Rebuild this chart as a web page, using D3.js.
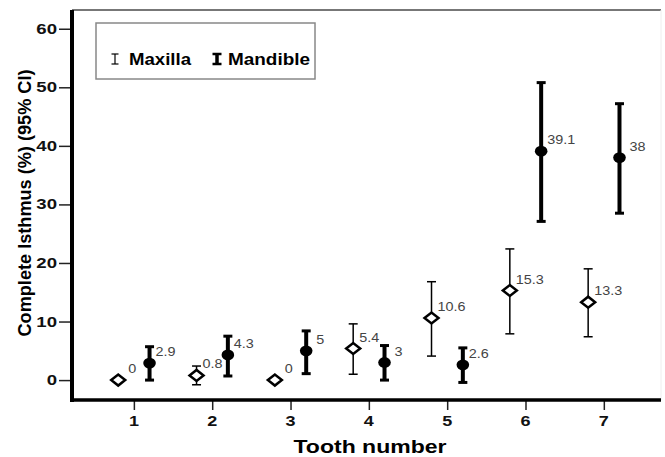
<!DOCTYPE html>
<html><head><meta charset="utf-8">
<script src="https://cdn.jsdelivr.net/npm/d3@7"></script>
<style>html,body{margin:0;padding:0;background:#fff;}svg{display:block;font-family:"Liberation Sans",Arial,sans-serif;}</style>
</head><body>
<svg id="chart" width="665" height="457"></svg>
<script>
const teeth = [1, 2, 3, 4, 5, 6, 7];
const xTickLabels = ["1", "2", "3", "4", "5", "6", "7"];
const yTicks = [0, 10, 20, 30, 40, 50, 60];
const maxillaMean = [0, 0.8, 0, 5.4, 10.6, 15.3, 13.3];
const maxillaLow  = [0, -0.8, 0, 1.0, 4.1, 7.9, 7.4];
const maxillaHigh = [0, 2.4, 0, 9.6, 16.8, 22.4, 19.0];
const maxillaLabels = ["0", "0.8", "0", "5.4", "10.6", "15.3", "13.3"];
const mandibleMean = [2.9, 4.3, 5, 3, 2.6, 39.1, 38];
const mandibleLow  = [0, 0.7, 1.1, 0, -0.4, 27.1, 28.5];
const mandibleHigh = [5.7, 7.5, 8.4, 5.9, 5.5, 50.8, 47.2];
const mandibleLabels = ["2.9", "4.3", "5", "3", "2.6", "39.1", "38"];
const seriesNames = ["Maxilla", "Mandible"];

const svg = d3.select("#chart");
const x = d3.scaleLinear().domain([0.21, 7.73]).range([72, 661]);
const y = d3.scaleLinear().domain([-3.4, 63.2]).range([400, 10]);
const SX = 1.2;

function stext(g, str, px, py, size, weight, anchor, fill) {
  return g.append("text")
    .attr("transform", `translate(${px},${py}) scale(${SX},1)`)
    .attr("font-size", size).attr("font-weight", weight)
    .attr("text-anchor", anchor).attr("dominant-baseline", "central")
    .attr("fill", fill).text(str);
}

// frame
svg.append("line").attr("x1", x(0.21)).attr("x2", x(7.73)).attr("y1", y(63.2)).attr("y2", y(63.2))
  .attr("stroke", "#777").attr("stroke-width", 2);
svg.append("line").attr("x1", x(7.73)).attr("x2", x(7.73)).attr("y1", y(63.2)).attr("y2", y(-3.4))
  .attr("stroke", "#eee").attr("stroke-width", 1);

// y axis
const yAxis = svg.append("g").attr("transform", `translate(${x(0.21)},0)`)
  .call(d3.axisLeft(y).tickValues(yTicks).tickSize(13).tickFormat(""));
yAxis.select(".domain").remove();
yAxis.selectAll(".tick line").attr("stroke", "#222").attr("stroke-width", 1.5);
yTicks.forEach(v => stext(svg, String(v), 57, y(v), 15.5, "bold", "end", "#111"));

// x axis
const xAxis = svg.append("g").attr("transform", `translate(0,${y(-3.4)})`)
  .call(d3.axisBottom(x).tickValues(teeth).tickSize(10).tickFormat(""));
xAxis.select(".domain").remove();
xAxis.selectAll(".tick line").attr("stroke", "#222").attr("stroke-width", 1.5);
teeth.forEach((t, i) => stext(svg, xTickLabels[i], x(t), 421, 15, "bold", "middle", "#111"));

svg.append("line").attr("x1", x(0.21)).attr("x2", x(0.21)).attr("y1", y(63.2)).attr("y2", y(-3.4) + 2)
  .attr("stroke", "#000").attr("stroke-width", 4);
svg.append("line").attr("x1", x(0.21) - 2).attr("x2", x(7.73)).attr("y1", y(-3.4)).attr("y2", y(-3.4))
  .attr("stroke", "#000").attr("stroke-width", 3.5);

// titles
svg.append("text").attr("x", 370).attr("y", 447).attr("font-size", 18).attr("font-weight", "bold")
  .attr("text-anchor", "middle").attr("dominant-baseline", "central")
  .attr("textLength", 153).attr("lengthAdjust", "spacingAndGlyphs")
  .text("Tooth number");
svg.append("text").attr("transform", "translate(31,203) rotate(-90)").attr("font-size", 17.5)
  .attr("font-weight", "bold").attr("text-anchor", "middle").attr("textLength", 267)
  .attr("lengthAdjust", "spacingAndGlyphs").text("Complete Isthmus (%) (95% CI)");

// error bars
function errBar(g, cx, lo, hi, lw, cw, capW) {
  if (hi - lo < 1e-9) return;
  g.append("line").attr("x1", cx).attr("x2", cx).attr("y1", y(lo)).attr("y2", y(hi))
    .attr("stroke", "#000").attr("stroke-width", lw);
  [lo, hi].forEach(v => g.append("line").attr("x1", cx - capW / 2).attr("x2", cx + capW / 2)
    .attr("y1", y(v)).attr("y2", y(v)).attr("stroke", "#000").attr("stroke-width", cw));
}
const gBars = svg.append("g");
teeth.forEach((t, i) => {
  errBar(gBars, x(t - 0.2), maxillaLow[i], maxillaHigh[i], 1.5, 1.5, 9);
  errBar(gBars, x(t + 0.2), mandibleLow[i], mandibleHigh[i], 4, 3, 9);
});

// markers
const gM = svg.append("g");
teeth.forEach((t, i) => {
  const cx = x(t - 0.2), cy = y(maxillaMean[i]);
  gM.append("path").attr("d", `M${cx - 7},${cy} L${cx},${cy - 5.5} L${cx + 7},${cy} L${cx},${cy + 5.5} Z`)
    .attr("fill", "#fff").attr("stroke", "#000").attr("stroke-width", 2.5);
  gM.append("ellipse").attr("cx", x(t + 0.2)).attr("cy", y(mandibleMean[i]))
    .attr("rx", 6.3).attr("ry", 5.4).attr("fill", "#000");
});

// value labels
const gL = svg.append("g");
function lab(str, cx, cy) {
  const dx = str.includes(".") ? 6 : 10;
  stext(gL, str, cx + dx, cy - 11, 12, "normal", "start", "#444");
}
teeth.forEach((t, i) => {
  lab(maxillaLabels[i], x(t - 0.2), y(maxillaMean[i]));
  lab(mandibleLabels[i], x(t + 0.2), y(mandibleMean[i]));
});

// legend
const lg = svg.append("g");
lg.append("rect").attr("x", 96).attr("y", 23).attr("width", 219).attr("height", 56)
  .attr("fill", "#fff").attr("stroke", "#888").attr("stroke-width", 1.5);
function legIcon(cx, lw, capW) {
  lg.append("line").attr("x1", cx).attr("x2", cx).attr("y1", 54).attr("y2", 64).attr("stroke", "#000").attr("stroke-width", lw);
  [54, 64].forEach(v => lg.append("line").attr("x1", cx - capW / 2).attr("x2", cx + capW / 2)
    .attr("y1", v).attr("y2", v).attr("stroke", "#000").attr("stroke-width", lw > 2 ? 2.5 : 1.2));
}
legIcon(115, 1.2, 7);
legIcon(217, 3.5, 9);
lg.append("text").attr("x", 129).attr("y", 65).attr("font-size", 16).attr("font-weight", "bold")
  .attr("textLength", 62).attr("lengthAdjust", "spacingAndGlyphs").text(seriesNames[0]);
lg.append("text").attr("x", 228).attr("y", 65).attr("font-size", 16).attr("font-weight", "bold")
  .attr("textLength", 82).attr("lengthAdjust", "spacingAndGlyphs").text(seriesNames[1]);
</script>
</body></html>
